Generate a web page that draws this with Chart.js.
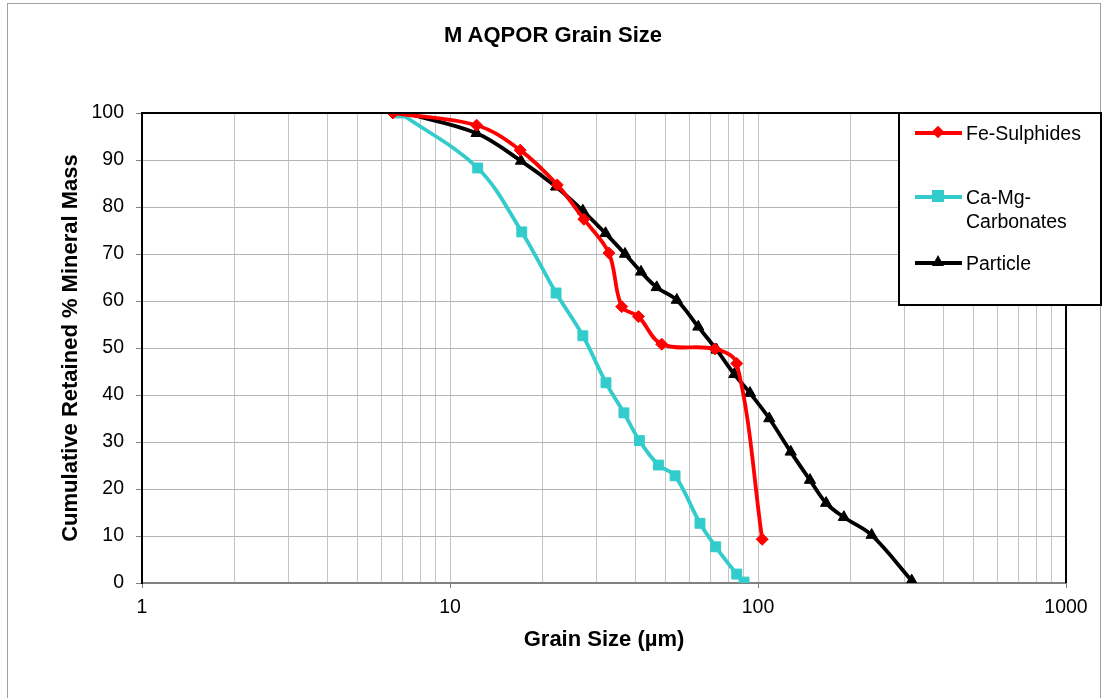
<!DOCTYPE html>
<html>
<head>
<meta charset="utf-8">
<script src="https://cdn.jsdelivr.net/npm/chart.js@4.4.1/dist/chart.umd.min.js"></script>
<style>
  body { margin: 0; background: #fff; font-family: "Liberation Sans", Arial, sans-serif; }
  #wrap { position: relative; width: 1104px; height: 698px; }
  #frame { position: absolute; left: 7px; top: 3px; width: 1094px; height: 700px; border: 1px solid #a0a0a0; box-sizing: border-box; }
  #title { position: absolute; left: 353px; width: 400px; top: 21px; line-height: 28px; text-align: center; font-size: 22px; font-weight: bold; color: #000; }
  #legend { position: absolute; left: 898px; top: 112px; width: 204px; height: 194px; border: 2px solid #000; background: #fff; box-sizing: border-box; }
  .item { position: absolute; left: 15px; font-size: 19.5px; color: #000; line-height: 24px; white-space: nowrap; }
  .sample { position: absolute; left: 0; width: 47px; height: 4px; top: 10px; }
  .sample span { position: absolute; left: 17px; top: -5px; width: 12px; height: 12px; }
  .txt { margin-left: 51px; }
</style>
</head>
<body>
<div id="wrap">
  <div id="frame"></div>
  <canvas id="grainChart" width="1104" height="698"></canvas>
  <div id="title">M AQPOR Grain Size</div>
  <div id="legend"></div>
</div>
<script>
// Fe-Sulphides
const feX = [6.53, 12.2, 16.9, 22.3, 27.2, 32.8, 36.1, 40.9, 48.7, 72.5, 85.3, 103.2];
const feY = [100, 97.4, 92.1, 84.7, 77.4, 70.2, 58.8, 56.7, 50.8, 49.8, 46.7, 9.3];

// Ca-Mg-Carbonates
const caX = [6.88, 12.3, 17.1, 22.1, 27.0, 32.1, 36.7, 41.2, 47.5, 53.8, 64.8, 72.9, 85.3, 90.1];
const caY = [100, 88.3, 74.7, 61.7, 52.6, 42.6, 36.2, 30.3, 25.1, 22.8, 12.7, 7.7, 1.9, 0.2];

// Particle
const paX = [7.14, 12.2, 17.0, 22.1, 27.0, 32.0, 37.0, 41.7, 46.9, 54.5, 64.0, 73.4, 83.8, 94.2, 108.8, 127.7, 147.5, 166.4, 190.0, 233.9, 315.5];
const paY = [100, 95.7, 89.8, 84.3, 79.2, 74.4, 70.0, 66.2, 62.9, 60.2, 54.5, 49.6, 44.4, 40.4, 35.0, 27.9, 21.9, 17.0, 14.0, 10.2, 0.5];

const xMajor = [1, 10, 100, 1000];

function toPoints(xs, ys) {
    return xs.map((x, i) => ({ x: x, y: ys[i] }));
}

const seriesInfo = [
    { label: 'Fe-Sulphides', color: '#ff0000', style: 'rectRot', radius: 6, xs: feX, ys: feY },
    { label: 'Ca-Mg-Carbonates', color: '#33cccc', style: 'rect', radius: 7, xs: caX, ys: caY },
    { label: 'Particle', color: '#000000', style: 'triangle', radius: 6.5, xs: paX, ys: paY }
];

// bordo nero dell'area del grafico
const plotBorder = {
    id: 'plotBorder',
    afterDatasetsDraw(chart) {
        const { ctx, chartArea: a } = chart;
        ctx.save();
        ctx.strokeStyle = '#000';
        ctx.lineWidth = 2;
        ctx.beginPath();
        ctx.moveTo(a.left, a.bottom);
        ctx.lineTo(a.left, a.top);
        ctx.lineTo(a.right, a.top);
        ctx.lineTo(a.right, a.bottom);
        ctx.stroke();
        ctx.restore();
    }
};

const font = { family: '"Liberation Sans", Arial, sans-serif' };

new Chart(document.getElementById('grainChart'), {
    type: 'line',
    data: {
        datasets: seriesInfo.map(s => ({
            label: s.label,
            data: toPoints(s.xs, s.ys),
            borderColor: s.color,
            backgroundColor: s.color,
            borderWidth: 3.8,
            pointStyle: s.style,
            pointRadius: s.radius,
            pointBorderWidth: 1,
            tension: 0.35,
            fill: false
        }))
    },
    options: {
        responsive: false,
        animation: false,
        layout: { padding: { left: 8, right: 38, top: 113, bottom: 0 } },
        plugins: {
            legend: { display: false },
            tooltip: { enabled: false },
            title: { display: false }
        },
        scales: {
            x: {
                type: 'logarithmic',
                min: 1,
                max: 1000,
                afterFit: s => { s.height = 115; },
                afterBuildTicks: s => {
                    const t = [];
                    for (let d = 1; d < 1000; d *= 10) {
                        for (let k = 1; k < 10; k++) t.push({ value: k * d });
                    }
                    t.push({ value: 1000 });
                    s.ticks = t;
                },
                ticks: {
                    autoSkip: false,
                    maxRotation: 0,
                    color: '#000',
                    padding: 8,
                    font: { ...font, size: 19.5 },
                    callback: v => xMajor.includes(v) ? String(v) : ''
                },
                grid: {
                    color: '#c4c4c4',
                    lineWidth: 1,
                    tickLength: 5,
                    tickColor: c => xMajor.includes(c.tick && c.tick.value) ? '#808080' : 'rgba(0,0,0,0)'
                },
                border: { color: '#808080', width: 2 },
                title: {
                    display: true,
                    text: 'Grain Size (µm)',
                    color: '#000',
                    font: { ...font, size: 22, weight: 'bold' },
                    padding: { top: 0, bottom: 45 }
                }
            },
            y: {
                min: 0,
                max: 100,
                afterFit: s => { s.width = 134; },
                ticks: {
                    stepSize: 10,
                    color: '#000',
                    padding: 12,
                    font: { ...font, size: 19.5 }
                },
                grid: { color: '#b4b4b4', lineWidth: 1, tickLength: 6, tickColor: '#808080' },
                border: { color: '#000', width: 2 },
                title: {
                    display: true,
                    text: 'Cumulative Retained % Mineral Mass',
                    color: '#000',
                    font: { ...font, size: 22, weight: 'bold' },
                    padding: { top: 50, bottom: 0 }
                }
            }
        }
    },
    plugins: [plotBorder]
});

// legenda HTML dentro il riquadro
const legendRows = [
    { idx: 0, top: 7, lines: ['Fe-Sulphides'] },
    { idx: 1, top: 71, lines: ['Ca-Mg-', 'Carbonates'] },
    { idx: 2, top: 137, lines: ['Particle'] }
];
const legend = document.getElementById('legend');
legendRows.forEach(r => {
    const s = seriesInfo[r.idx];
    const item = document.createElement('div');
    item.className = 'item';
    item.style.top = r.top + 'px';
    let mark = '';
    if (s.style === 'rectRot') mark = `<span style="background:${s.color};transform:rotate(45deg) scale(0.75)"></span>`;
    else if (s.style === 'rect') mark = `<span style="background:${s.color}"></span>`;
    else mark = `<span style="width:0;height:0;left:17px;top:-6px;background:none;border-left:6px solid transparent;border-right:6px solid transparent;border-bottom:11px solid ${s.color}"></span>`;
    item.innerHTML = `<div class="sample" style="background:${s.color}">${mark}</div><div class="txt">${r.lines.join('<br>')}</div>`;
    legend.appendChild(item);
});
</script>
</body>
</html>
